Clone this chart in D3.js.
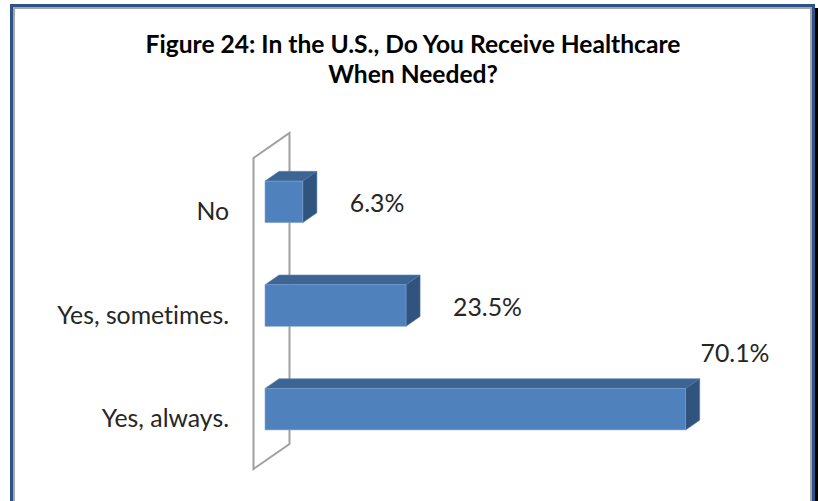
<!DOCTYPE html>
<html>
<head>
<meta charset="utf-8">
<script src="https://cdn.jsdelivr.net/npm/d3@7"></script>
<style>
  body { margin: 0; background: #fff; }
  svg { display: block; }
  text { font-variant-ligatures: none; }
</style>
</head>
<body>
<div class="chart"></div>
<script>
const categories = ["No", "Yes, sometimes.", "Yes, always."];
const values = [6.3, 23.5, 70.1];
const titleLines = ["Figure 24: In the U.S., Do You Receive Healthcare", "When Needed?"];

const width = 819;
const height = 501;
const font = "Lato, 'Open Sans', sans-serif";

const svg = d3.select(".chart").append("svg")
  .attr("width", width)
  .attr("height", height);

// frame: blue outline, grey inner line, dark shadow on the right
svg.append("rect")
  .attr("x", 0).attr("y", 0).attr("width", width).attr("height", height)
  .attr("fill", "#fff");
svg.append("line")
  .attr("x1", 816.5).attr("y1", 8).attr("x2", 816.5).attr("y2", height)
  .attr("stroke", "#000").attr("stroke-width", 3);
svg.append("rect")
  .attr("x", 11.5).attr("y", 5.5).attr("width", 802).attr("height", 520)
  .attr("fill", "none").attr("stroke", "#2b5389").attr("stroke-width", 3);
svg.append("rect")
  .attr("x", 14).attr("y", 8).attr("width", 797).attr("height", 520)
  .attr("fill", "none").attr("stroke", "#a6a6a6").attr("stroke-width", 2);

// title
svg.selectAll(".title")
  .data(titleLines)
  .enter()
  .append("text")
  .attr("class", "title")
  .attr("x", 413)
  .attr("y", (d, i) => 53 + i * 30)
  .attr("text-anchor", "middle")
  .style("font-family", font)
  .style("font-weight", "700")
  .style("font-size", "24.6px")
  .attr("fill", "#000")
  .text(d => d);

// scales (front plane of the 3D box)
const x = d3.scaleLinear()
  .domain([0, 80])
  .range([253.5, 733.5]);

const y = d3.scaleBand()
  .domain(categories)
  .range([158, 469])
  .paddingInner(0.6)
  .paddingOuter(0.3);

// depth vector of the whole box and where the bars sit in it
const depth = { dx: 36, dy: -25 };
const barFront = 0.32;
const barBack = 0.71;

// side wall
const x0 = x(0);
const wall = svg.append("g");
wall.append("path")
  .attr("d", `M${x0},${y.range()[0]} L${x0 + depth.dx},${y.range()[0] + depth.dy} L${x0 + depth.dx},${y.range()[1] + depth.dy} L${x0},${y.range()[1]} Z`)
  .attr("fill", "#fff")
  .attr("stroke", "#a0a0a0")
  .attr("stroke-width", 2);

const data = categories.map((c, i) => ({ cat: c, value: values[i] }));

const fx = depth.dx * barFront, fy = depth.dy * barFront;
const bx = depth.dx * (barBack - barFront), by = depth.dy * (barBack - barFront);

const bars = svg.selectAll(".bar")
  .data(data)
  .enter()
  .append("g")
  .attr("class", "bar");

// top face
bars.append("path")
  .attr("d", d => {
    const l = x(0) + fx, r = x(d.value) + fx, t = y(d.cat) + fy;
    return `M${l},${t} L${l + bx},${t + by} L${r + bx},${t + by} L${r},${t} Z`;
  })
  .attr("fill", "#3c6594")
  .attr("stroke", "#5b86bd")
  .attr("stroke-width", 0.6);

// side face
bars.append("path")
  .attr("d", d => {
    const r = x(d.value) + fx, t = y(d.cat) + fy, b = t + y.bandwidth();
    return `M${r},${t} L${r + bx},${t + by} L${r + bx},${b + by} L${r},${b} Z`;
  })
  .attr("fill", "#31547f")
  .attr("stroke", "#4a74a8")
  .attr("stroke-width", 0.6);

// front face
bars.append("rect")
  .attr("x", x(0) + fx)
  .attr("y", d => y(d.cat) + fy)
  .attr("width", d => x(d.value) - x(0))
  .attr("height", y.bandwidth())
  .attr("fill", "#4f81bd")
  .attr("stroke", "#7ba0d0")
  .attr("stroke-width", 0.6);

// category labels
svg.selectAll(".cat")
  .data(categories)
  .enter()
  .append("text")
  .attr("class", "cat")
  .attr("x", 229)
  .attr("y", d => y(d) + y.bandwidth() / 2 + 10)
  .attr("text-anchor", "end")
  .style("font-family", font)
  .style("font-size", "24.8px")
  .attr("fill", "#262626")
  .text(d => d);

// value labels: to the right of the bar, or above it when it runs long
svg.selectAll(".val")
  .data(data)
  .enter()
  .append("text")
  .attr("class", "val")
  .attr("x", d => d.value > 50 ? x(d.value) + fx + 15 : x(d.value) + fx + 47)
  .attr("y", d => d.value > 50 ? y(d.cat) + fy - 26 : y(d.cat) + fy + y.bandwidth() / 2 + 10)
  .style("font-family", font)
  .style("font-size", "24.8px")
  .attr("fill", "#262626")
  .text(d => d.value.toFixed(1) + "%");
</script>
</body>
</html>
